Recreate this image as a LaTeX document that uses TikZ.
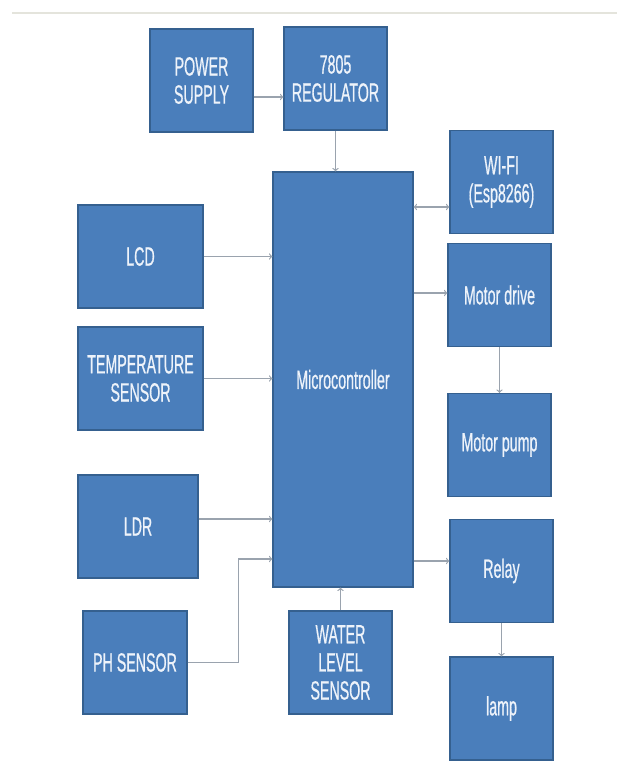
\documentclass[tikz,border=0pt]{standalone}
\usepackage{fontspec}
\usetikzlibrary{shapes,arrows}
\newfontfamily\boxfont[FakeStretch=0.54,FakeBold=0.6]{Liberation Sans}
\definecolor{blkfill}{HTML}{4A7EBB}
\definecolor{blkline}{HTML}{35608F}
\definecolor{blktext}{HTML}{EEF3FA}
\definecolor{connline}{HTML}{9AA3AE}
\definecolor{topline}{HTML}{E4E4DC}

\tikzset{
  blk/.style={draw=blkline, fill=blkfill, text=blktext, line width=1pt,
    minimum width=3.09cm, minimum height=3.09cm, inner sep=0pt, align=center,
    font={\boxfont\fontsize{22.5}{24}\selectfont}},
  conn/.style={->, draw=connline, line width=1pt},
}

\begin{document}
\begin{tikzpicture}[x=0.03cm,y=-0.03cm]
  \useasboundingbox (0,0) rectangle (617,763);
  \draw[topline,line width=1.2pt] (12,13) -- (617,13);

% supply chain
  \node[blk] (ps)  at (201.5,80.5) {POWER\\SUPPLY};
  \node[blk] (reg) at (335.5,78.5) {7805\\REGULATOR};

% controller
  \node[blk,minimum width=4.2cm,minimum height=12.45cm] (mcu) at (343,379.5) {Microcontroller};

% inputs on the left
  \node[blk,minimum width=3.75cm] (lcd)  at (140.5,256.5) {LCD};
  \node[blk,minimum width=3.75cm] (temp) at (140.5,378.5) {TEMPERATURE\\SENSOR};
  \node[blk,minimum width=3.6cm]  (ldr)  at (138,526.5) {LDR};
  \node[blk,minimum width=3.12cm] (ph)   at (135,662.5) {PH SENSOR};
  \node[blk] (water) at (340.5,662.5) {WATER\\LEVEL\\SENSOR};

% outputs on the right
  \node[blk] (wifi)   at (501.5,182) {WI-FI\\(Esp8266)};
  \node[blk] (mdrive) at (499.5,295) {Motor drive};
  \node[blk] (mpump)  at (499.5,445) {Motor pump};
  \node[blk] (relay)  at (501.5,571) {Relay};
  \node[blk] (lamp)   at (501.5,708.5) {lamp};

% connectors
  \draw[conn] (ps.east |- 0,97) -- (reg.west |- 0,97);
  \draw[conn] (reg.south) -- (reg.south |- mcu.north);
  \draw[conn,<->] (mcu.east |- 0,207) -- (wifi.west |- 0,207);
  \draw[conn] (mcu.east |- 0,293) -- (mdrive.west |- 0,293);
  \draw[conn] (mdrive.south) -- (mpump.north);
  \draw[conn] (mcu.east |- 0,561) -- (relay.west |- 0,561);
  \draw[conn] (relay.south) -- (lamp.north);
  \draw[conn] (lcd.east) -- (mcu.west |- lcd.east);
  \draw[conn] (temp.east) -- (mcu.west |- temp.east);
  \draw[conn] (ldr.east |- 0,519) -- (mcu.west |- 0,519);
  \draw[conn] (ph.east) -- ++(51,0) |- (mcu.west |- 0,559);
  \draw[conn] (water.north) -- (water.north |- mcu.south);

\end{tikzpicture}
\end{document}
